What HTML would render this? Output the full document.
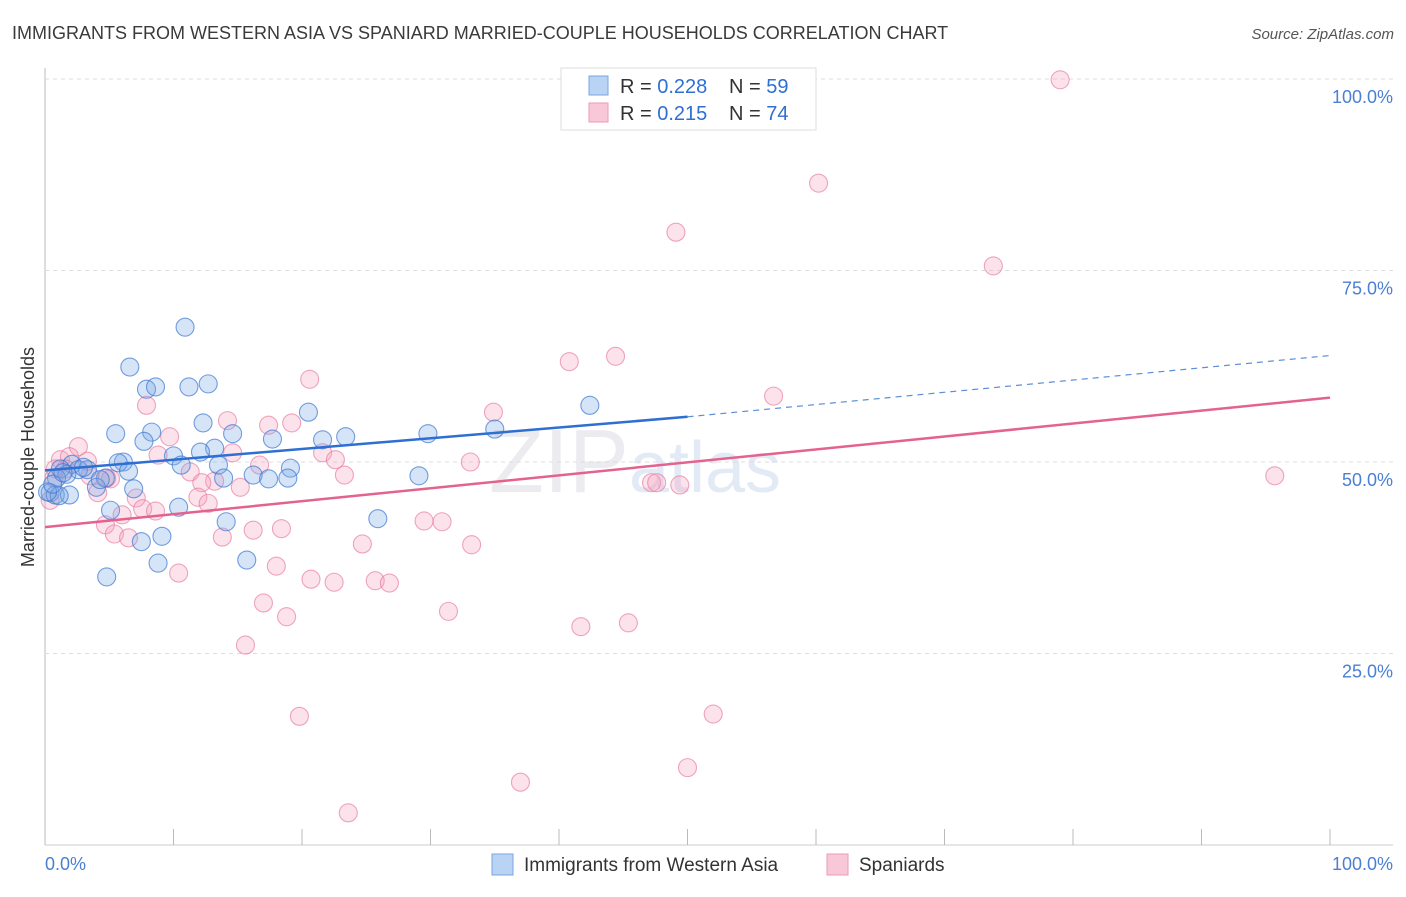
<!DOCTYPE html>
<html><head><meta charset="utf-8"><style>
body{margin:0;background:#fff;font-family:"Liberation Sans",sans-serif}
svg text{font-family:"Liberation Sans",sans-serif}
</style></head><body>
<svg id="chart" width="1406" height="892">
<text x="12" y="39" font-size="18" fill="#3a3a3a">IMMIGRANTS FROM WESTERN ASIA VS SPANIARD MARRIED-COUPLE HOUSEHOLDS CORRELATION CHART</text>
<text x="1394" y="39" font-size="15" fill="#555" text-anchor="end" font-style="italic">Source: ZipAtlas.com</text>
<text x="34" y="457" font-size="18" fill="#333" text-anchor="middle" transform="rotate(-90 34 457)">Married-couple Households</text>
<text x="635" y="492" font-size="90" fill="#ececf0" text-anchor="middle" font-family="Liberation Serif">ZIP<tspan fill="#e2eaf6" font-family="Liberation Sans" font-size="72">atlas</tspan></text>
<g id="grid"></g><g id="pts"></g><g id="lines"></g>
<g>
<rect x="561" y="68" width="255" height="62" fill="#fff" stroke="#ddd"/>
<rect x="589" y="76" width="19" height="19" fill="#b9d3f5" stroke="#7aa5e0"/>
<rect x="589" y="103" width="19" height="19" fill="#f9c8d8" stroke="#ec9ab5"/>
<text x="620" y="93" font-size="20" fill="#333">R = <tspan fill="#2f6fd4">0.228</tspan><tspan x="729">N = </tspan><tspan fill="#2f6fd4">59</tspan></text>
<text x="620" y="120" font-size="20" fill="#333">R = <tspan fill="#2f6fd4"> 0.215</tspan><tspan x="729">N = </tspan><tspan fill="#2f6fd4">74</tspan></text>
</g>
<g>
<rect x="492" y="854" width="21" height="21" fill="#b9d3f5" stroke="#7aa5e0"/>
<text x="524" y="871" font-size="19" fill="#333">Immigrants from Western Asia</text>
<rect x="827" y="854" width="21" height="21" fill="#f9c8d8" stroke="#ec9ab5"/>
<text x="859" y="871" font-size="19" fill="#333">Spaniards</text>
</g>
<text x="45" y="870" font-size="18" fill="#4a7fd4">0.0%</text>
<text x="1393" y="870" font-size="18" fill="#4a7fd4" text-anchor="end">100.0%</text>
</svg>
<script>
const yTicks=[100,75,50,25];
const yTickLabels=["100.0%","75.0%","50.0%","25.0%"];
const xTicks=[0,10,20,30,40,50,60,70,80,90,100];
const blueX=[10.9,6.6,7.9,8.6,11.2,12.7,20.5,42.4,12.3,8.3,5.5,14.6,23.4,29.8,35.0,21.6,17.7,7.7,13.2,10.0,12.1,19.1,16.2,17.4,18.9,29.1,6.1,5.7,6.5,4.7,4.0,3.3,2.1,1.2,2.6,1.7,3.0,0.9,0.4,0.8,1.9,10.6,13.5,13.9,6.9,5.1,10.4,14.1,25.9,7.5,9.1,8.8,15.7,4.8,1.1,0.2,0.6,1.4,4.3];
const blueY=[67.6,62.4,59.5,59.8,59.8,60.2,56.5,57.4,55.1,53.9,53.7,53.7,53.3,53.7,54.3,52.9,53.0,52.7,51.8,50.8,51.3,49.2,48.3,47.8,47.9,48.2,50.0,49.9,48.8,47.9,46.7,49.0,49.7,49.1,49.0,48.4,49.3,47.9,46.0,45.7,45.7,49.6,49.6,47.9,46.5,43.7,44.1,42.2,42.6,39.6,40.3,36.8,37.2,35.0,45.6,46.1,47.1,48.6,47.7];
const pinkX=[79.0,60.2,49.1,73.8,44.4,40.8,20.6,56.7,7.9,34.9,14.2,17.4,19.2,9.7,2.6,8.8,14.6,21.6,22.6,33.1,16.7,11.3,13.2,12.2,15.2,23.3,47.2,47.6,49.4,95.7,4.1,7.1,11.9,12.7,5.1,7.6,8.6,6.0,4.7,5.4,6.5,29.5,30.9,13.8,16.2,18.4,24.7,33.2,18.0,10.4,20.7,22.5,25.7,26.8,17.0,31.4,18.8,45.4,41.7,15.6,19.8,52.0,50.0,37.0,23.6,1.2,1.9,3.3,4.8,0.8,0.4,1.6,3.5,0.7];
const pinkY=[99.9,86.4,80.0,75.6,63.8,63.1,60.8,58.6,57.4,56.5,55.4,54.8,55.1,53.3,52.0,50.9,51.2,51.2,50.3,50.0,49.6,48.7,47.5,47.3,46.7,48.3,47.3,47.3,47.0,48.2,46.0,45.3,45.4,44.6,47.8,43.9,43.6,43.1,41.8,40.6,40.1,42.3,42.2,40.2,41.1,41.3,39.3,39.2,36.4,35.5,34.7,34.3,34.5,34.2,31.6,30.5,29.8,29.0,28.5,26.1,16.8,17.1,10.1,8.2,4.2,50.3,50.7,50.1,47.9,49.1,45.0,49.1,48.2,47.9];
const blueTrend=[48.9,55.9,63.9]; // y at x=0, x=50 (solid end), x=100
const pinkTrend=[41.5,58.4];      // y at x=0, x=100
const X=v=>45+v*12.85, Y=v=>845-v*7.66;
const NS="http://www.w3.org/2000/svg";
function mk(t,a,p){const e=document.createElementNS(NS,t);for(const k in a)e.setAttribute(k,a[k]);p.appendChild(e);return e;}
const grid=document.getElementById('grid');
const ax=mk('line',{x1:45,y1:68,x2:45,y2:845,stroke:'#bbb'},grid);


const bx=mk('line',{x1:45,y1:845,x2:1393,y2:845,stroke:'#ccc'},grid);


yTicks.forEach((t,i)=>{
 const g=mk('line',{x1:45,y1:Y(t),x2:1393,y2:Y(t),stroke:'#ddd','stroke-dasharray':'4,4'},grid);
 
 
 const l=mk('text',{x:1393,y:Y(t)+24,'font-size':18,fill:'#4a7fd4','text-anchor':'end'},grid);
 l.textContent=yTickLabels[i];
 
 
});
xTicks.forEach(t=>{
 const k=mk('line',{x1:X(t),y1:829,x2:X(t),y2:845,stroke:'#bbb'},grid);
 
 
});
const pts=document.getElementById('pts');
function dots(xs,ys,fill,stroke,name){xs.forEach((x,i)=>{
 const c=mk('circle',{cx:X(x),cy:Y(ys[i]),r:9,fill:fill,stroke:stroke,'stroke-width':1.1},pts);
 
 
});}
dots(pinkX,pinkY,'rgba(244,160,188,0.3)','rgba(230,120,160,0.65)','spaniards-point');
dots(blueX,blueY,'rgba(120,165,230,0.3)','rgba(60,120,210,0.7)','western-asia-point');
const lines=document.getElementById('lines');
const b1=mk('line',{x1:X(0),y1:Y(blueTrend[0]),x2:X(50),y2:Y(blueTrend[1]),stroke:'#2d6fd2','stroke-width':2.5},lines);


const b2=mk('line',{x1:X(50),y1:Y(blueTrend[1]),x2:X(100),y2:Y(blueTrend[2]),stroke:'#5a8fd8','stroke-width':1.2,'stroke-dasharray':'6,5'},lines);


const p1=mk('line',{x1:X(0),y1:Y(pinkTrend[0]),x2:X(100),y2:Y(pinkTrend[1]),stroke:'#e4628e','stroke-width':2.5},lines);


</script>
</body></html>
